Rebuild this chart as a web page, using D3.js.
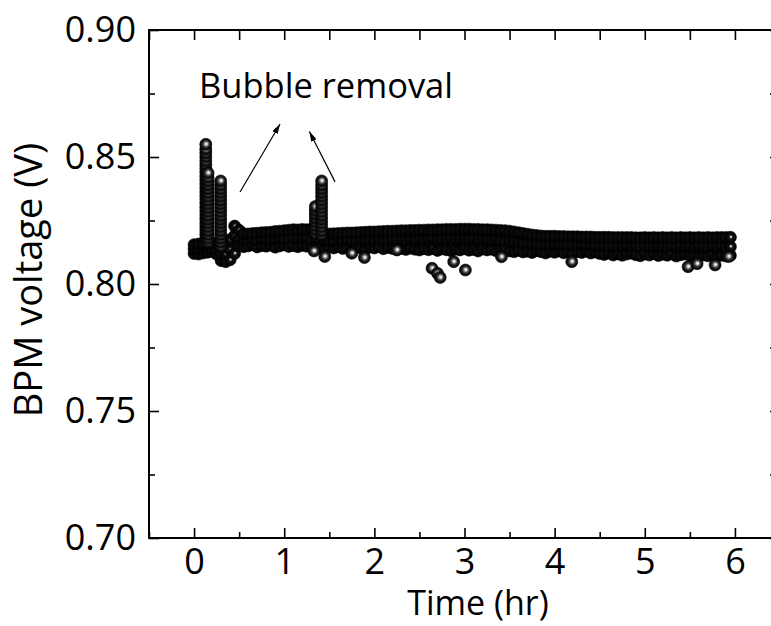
<!DOCTYPE html>
<html>
<head>
<meta charset="utf-8">
<script src="https://cdn.jsdelivr.net/npm/d3@7/dist/d3.min.js"></script>
<style>
  body { margin: 0; background: #fff; }
  svg text { font-family: "Open Sans", "Noto Sans", sans-serif; fill: #000; }
</style>
</head>
<body>
<div id="chart"></div>
<script>
// readings, hr
var times = [0.00,0.05,0.10,0.15,0.20,0.25,0.30,0.35,0.40,0.45,
  0.50,0.55,0.60,0.65,0.70,0.75,0.80,0.85,0.90,0.95,
  1.00,1.05,1.10,1.15,1.20,1.25,1.30,1.35,1.40,1.45,
  1.50,1.55,1.60,1.65,1.70,1.75,1.80,1.85,1.90,1.95,
  2.00,2.05,2.10,2.15,2.20,2.25,2.30,2.35,2.40,2.45,
  2.50,2.55,2.60,2.65,2.70,2.75,2.80,2.85,2.90,2.95,
  3.00,3.05,3.10,3.15,3.20,3.25,3.30,3.35,3.40,3.45,
  3.50,3.55,3.60,3.65,3.70,3.75,3.80,3.85,3.90,3.95,
  4.00,4.05,4.10,4.15,4.20,4.25,4.30,4.35,4.40,4.45,
  4.50,4.55,4.60,4.65,4.70,4.75,4.80,4.85,4.90,4.95,
  5.00,5.05,5.10,5.15,5.20,5.25,5.30,5.35,5.40,5.45,
  5.50,5.55,5.60,5.65,5.70,5.75,5.80,5.85,5.90,5.95];

// three readings per time step (V): high, middle, low
var vHigh = [0.8155,0.8157,0.8156,0.8158,0.8160,0.8158,0.8150,0.8152,0.8175,0.8228,
  0.8212,0.8198,0.8197,0.8199,0.8200,0.8202,0.8203,0.8204,0.8207,0.8208,
  0.8210,0.8212,0.8214,0.8213,0.8215,0.8214,0.8216,0.8215,0.8210,0.8196,
  0.8197,0.8198,0.8199,0.8200,0.8201,0.8201,0.8202,0.8203,0.8204,0.8205,
  0.8205,0.8206,0.8207,0.8208,0.8208,0.8209,0.8210,0.8210,0.8211,0.8211,
  0.8212,0.8212,0.8213,0.8213,0.8214,0.8214,0.8215,0.8215,0.8215,0.8216,
  0.8216,0.8216,0.8215,0.8215,0.8214,0.8214,0.8213,0.8212,0.8211,0.8210,
  0.8208,0.8205,0.8202,0.8199,0.8196,0.8193,0.8191,0.8189,0.8188,0.8188,
  0.8188,0.8187,0.8187,0.8186,0.8186,0.8186,0.8185,0.8185,0.8185,0.8184,
  0.8184,0.8184,0.8184,0.8183,0.8183,0.8183,0.8183,0.8183,0.8182,0.8182,
  0.8183,0.8182,0.8183,0.8182,0.8183,0.8182,0.8183,0.8182,0.8183,0.8182,
  0.8183,0.8182,0.8183,0.8182,0.8183,0.8182,0.8183,0.8183,0.8183,0.8184];

var vMid = [0.8138,0.8140,0.8137,0.8142,0.8144,0.8140,0.8120,0.8118,0.8135,0.8190,
  0.8178,0.8174,0.8176,0.8179,0.8175,0.8177,0.8180,0.8176,0.8178,0.8181,
  0.8177,0.8179,0.8182,0.8178,0.8180,0.8183,0.8179,0.8181,0.8178,0.8170,
  0.8172,0.8169,0.8173,0.8171,0.8174,0.8170,0.8173,0.8175,0.8171,0.8174,
  0.8172,0.8176,0.8173,0.8175,0.8177,0.8174,0.8176,0.8173,0.8177,0.8175,
  0.8178,0.8174,0.8177,0.8179,0.8175,0.8178,0.8176,0.8179,0.8177,0.8175,
  0.8178,0.8176,0.8179,0.8174,0.8177,0.8175,0.8173,0.8176,0.8172,0.8170,
  0.8168,0.8165,0.8163,0.8160,0.8159,0.8157,0.8158,0.8156,0.8158,0.8155,
  0.8157,0.8154,0.8156,0.8155,0.8153,0.8156,0.8154,0.8152,0.8155,0.8153,
  0.8150,0.8152,0.8149,0.8151,0.8148,0.8150,0.8152,0.8147,0.8150,0.8148,
  0.8151,0.8149,0.8147,0.8150,0.8148,0.8146,0.8149,0.8147,0.8150,0.8146,
  0.8148,0.8145,0.8149,0.8147,0.8144,0.8148,0.8146,0.8149,0.8145,0.8147];

var vLow = [0.8120,0.8118,0.8122,0.8125,0.8128,0.8118,0.8092,0.8088,0.8095,0.8120,
  0.8152,0.8147,0.8150,0.8155,0.8146,0.8151,0.8149,0.8153,0.8145,0.8150,
  0.8154,0.8148,0.8151,0.8147,0.8152,0.8149,0.8153,0.8146,0.8140,0.8138,
  0.8145,0.8142,0.8147,0.8140,0.8144,0.8139,0.8146,0.8141,0.8137,0.8145,
  0.8142,0.8147,0.8139,0.8144,0.8140,0.8136,0.8140,0.8136,0.8141,0.8137,
  0.8134,0.8139,0.8135,0.8140,0.8132,0.8138,0.8135,0.8131,0.8137,0.8134,
  0.8139,0.8133,0.8136,0.8130,0.8138,0.8134,0.8137,0.8131,0.8135,0.8138,
  0.8130,0.8127,0.8132,0.8126,0.8129,0.8124,0.8131,0.8127,0.8122,0.8129,
  0.8125,0.8130,0.8123,0.8128,0.8121,0.8127,0.8124,0.8129,0.8122,0.8126,
  0.8120,0.8116,0.8122,0.8114,0.8119,0.8113,0.8118,0.8121,0.8115,0.8111,
  0.8118,0.8114,0.8120,0.8112,0.8117,0.8113,0.8119,0.8110,0.8115,0.8118,
  0.8112,0.8116,0.8109,0.8114,0.8111,0.8117,0.8108,0.8113,0.8110,0.8112];

// bubble spikes: many readings at nearly the same time
var spikeTimes = [0.13, 0.155, 0.295, 1.345, 1.415];
var spikeValues = [
  [0.8165,0.8180,0.8196,0.8211,0.8226,0.8241,0.8257,0.8272,0.8287,0.8302,0.8318,0.8333,0.8348,
   0.8363,0.8379,0.8394,0.8409,0.8424,0.8440,0.8455,0.8470,0.8485,0.8501,0.8516,0.8531,0.8550],
  [0.8165,0.8180,0.8195,0.8210,0.8225,0.8240,0.8255,0.8270,0.8285,0.8300,0.8315,0.8330,0.8345,
   0.8360,0.8375,0.8390,0.8405,0.8420,0.8437],
  [0.8150,0.8165,0.8180,0.8195,0.8210,0.8225,0.8240,0.8255,0.8270,0.8285,0.8300,0.8315,0.8330,
   0.8345,0.8360,0.8375,0.8390,0.8406],
  [0.8200,0.8215,0.8230,0.8245,0.8260,0.8275,0.8290,0.8305],
  [0.8195,0.8210,0.8225,0.8240,0.8255,0.8270,0.8285,0.8300,0.8315,0.8330,0.8345,0.8360,0.8375,
   0.8390,0.8406]
];

// stray low readings
var strayTimes = [1.33, 1.45, 1.75, 1.89, 2.25, 2.64, 2.70, 2.73, 2.88, 3.01, 3.41, 4.19, 5.48, 5.58, 5.78, 5.93];
var strayValues = [0.8130, 0.8108, 0.8121, 0.8104, 0.8134, 0.8062, 0.8042, 0.8026, 0.8088, 0.8055, 0.8107, 0.8088, 0.8068, 0.8080, 0.8075, 0.8108];

var xTicks = [0, 1, 2, 3, 4, 5, 6];
var xMinor = [-0.5, 0.5, 1.5, 2.5, 3.5, 4.5, 5.5, 6.5];
var yTicks = [0.70, 0.75, 0.80, 0.85, 0.90];
var yMinor = [0.725, 0.775, 0.825, 0.875];

var noteText = "Bubble removal";
var noteAt = [0.055, 0.8732];
var arrowFrom = [[0.51, 0.8362], [1.564, 0.8402]];
var arrowTo = [[0.954, 0.8630], [1.279, 0.8600]];

var W = 771, H = 626;
var plot = { left: 149, right: 780, top: 30, bottom: 538 };

var x = d3.scaleLinear().domain([-0.5, 6.5]).range([plot.left, plot.right]);
var y = d3.scaleLinear().domain([0.70, 0.90]).range([plot.bottom, plot.top]);

var svg = d3.select("#chart").append("svg").attr("width", W).attr("height", H);

var defs = svg.append("defs");
var addBall = function(id, stops) {
  var g = defs.append("radialGradient").attr("id", id)
    .attr("cx", "50%").attr("cy", "50%").attr("r", "50%")
    .attr("fx", "55%").attr("fy", "46%");
  stops.forEach(function(s) {
    g.append("stop").attr("offset", s[0]).attr("stop-color", s[1]);
  });
};
// dense band hides most of each sphere, so it gets the darker shading
addBall("ballDark", [[0, "#ffffff"], [0.1, "#d0d0d0"], [0.22, "#4a4a4a"], [0.38, "#101010"], [1, "#000000"]]);
addBall("ball", [[0, "#ffffff"], [0.16, "#e0e0e0"], [0.36, "#7a7a7a"], [0.6, "#222222"], [1, "#000000"]]);

defs.append("marker").attr("id", "head")
  .attr("viewBox", "0 0 10 6").attr("refX", 10).attr("refY", 3)
  .attr("markerWidth", 10).attr("markerHeight", 6)
  .attr("markerUnits", "userSpaceOnUse").attr("orient", "auto")
  .append("path").attr("d", "M0,0L10,3L0,6Z").attr("fill", "#000");

// band points in time order: low, middle, high at each step
var band = [];
times.forEach(function(t, i) {
  band.push([t, vLow[i]]);
  band.push([t, vMid[i]]);
  band.push([t, vHigh[i]]);
});
var extra = [];
spikeTimes.forEach(function(t, k) {
  spikeValues[k].forEach(function(v) { extra.push([t, v]); });
});
strayTimes.forEach(function(t, i) { extra.push([t, strayValues[i]]); });

var drawPoints = function(data, fill) {
  svg.append("g")
    .selectAll("circle").data(data).enter()
    .append("circle")
    .attr("cx", function(d) { return x(d[0]); })
    .attr("cy", function(d) { return y(d[1]); })
    .attr("r", 6)
    .attr("fill", fill)
    .attr("stroke", "#000").attr("stroke-width", 0.6);
};
drawPoints(band, "url(#ballDark)");
drawPoints(extra, "url(#ball)");

// axes, ticks inward on all four sides
var axisStyle = function(g) {
  g.select(".domain").remove();
  g.selectAll(".tick line").attr("stroke", "#000").attr("stroke-width", 1.6);
  g.selectAll(".tick text").style("font-size", "36px");
};

svg.append("g").attr("transform", "translate(0," + plot.bottom + ")")
  .call(d3.axisBottom(x).tickValues(xTicks).tickSize(-10).tickPadding(10).tickFormat(d3.format("d")))
  .call(axisStyle);
svg.append("g").attr("transform", "translate(0," + plot.bottom + ")")
  .call(d3.axisBottom(x).tickValues(xMinor).tickSize(-6).tickFormat(""))
  .call(axisStyle);
svg.append("g").attr("transform", "translate(0," + plot.top + ")")
  .call(d3.axisTop(x).tickValues(xTicks.concat(xMinor)).tickSize(-10).tickFormat(""))
  .call(axisStyle);

svg.append("g").attr("transform", "translate(" + plot.left + ",0)")
  .call(d3.axisLeft(y).tickValues(yTicks).tickSize(-10).tickPadding(13).tickFormat(d3.format(".2f")))
  .call(axisStyle);
svg.append("g").attr("transform", "translate(" + plot.left + ",0)")
  .call(d3.axisLeft(y).tickValues(yMinor).tickSize(-6).tickFormat(""))
  .call(axisStyle);
svg.append("g").attr("transform", "translate(" + plot.right + ",0)")
  .call(d3.axisRight(y).tickValues(yTicks.concat(yMinor)).tickSize(-10).tickFormat(""))
  .call(axisStyle);

svg.append("rect")
  .attr("x", plot.left).attr("y", plot.top)
  .attr("width", plot.right - plot.left).attr("height", plot.bottom - plot.top)
  .attr("fill", "none").attr("stroke", "#000").attr("stroke-width", 2);

// annotation
svg.selectAll("line.arrow").data(arrowFrom).enter()
  .append("line").attr("class", "arrow")
  .attr("x1", function(d) { return x(d[0]); })
  .attr("y1", function(d) { return y(d[1]); })
  .attr("x2", function(d, i) { return x(arrowTo[i][0]); })
  .attr("y2", function(d, i) { return y(arrowTo[i][1]); })
  .attr("stroke", "#000").attr("stroke-width", 1.2)
  .attr("marker-end", "url(#head)");

svg.append("text")
  .attr("x", x(noteAt[0])).attr("y", y(noteAt[1]))
  .style("font-size", "34.5px")
  .text(noteText);

svg.append("text")
  .attr("x", 478).attr("y", 615)
  .attr("text-anchor", "middle")
  .style("font-size", "34px")
  .text("Time (hr)");

svg.append("text")
  .attr("transform", "translate(42,280) rotate(-90)")
  .attr("text-anchor", "middle")
  .style("font-size", "38px")
  .text("BPM voltage (V)");
</script>
</body>
</html>
